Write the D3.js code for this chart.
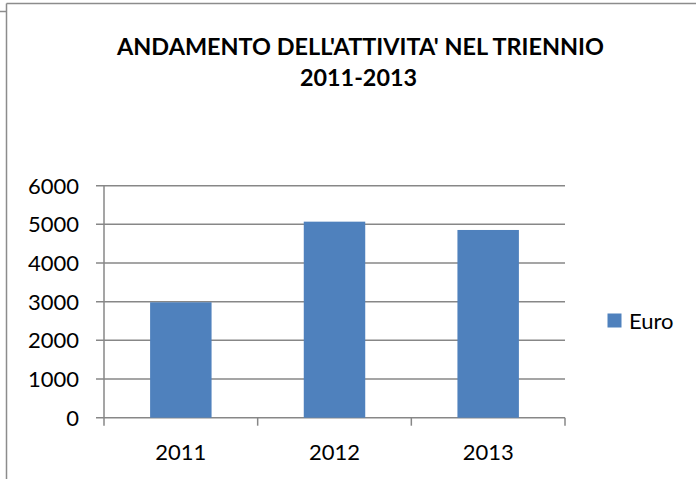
<!DOCTYPE html>
<html><head><meta charset="utf-8">
<script src="https://cdn.jsdelivr.net/npm/d3@7"></script>
<style>html,body{margin:0;padding:0;background:#fff;}svg{display:block;}</style>
</head><body>
<svg id="c" width="696" height="479"></svg>
<script>
const categories = ["2011", "2012", "2013"];
const values = [2985, 5070, 4855];
const seriesName = "Euro";
const yTicks = [0, 1000, 2000, 3000, 4000, 5000, 6000];
const titleLines = ["ANDAMENTO DELL'ATTIVITA' NEL TRIENNIO", "2011-2013"];

(function () {
const svg = d3.select("#c");
const font = "Lato, 'Open Sans', sans-serif";
const grey = "#878787";

// outer frame
svg.append("line").attr("x1", 6.5).attr("x2", 696).attr("y1", 3.5).attr("y2", 3.5).attr("stroke", "#8c8c8c").attr("stroke-width", 1.5);
svg.append("line").attr("x1", 6.5).attr("x2", 6.5).attr("y1", 3.5).attr("y2", 479).attr("stroke", "#8c8c8c").attr("stroke-width", 1.5);
svg.append("line").attr("x1", 0).attr("x2", 6.5).attr("y1", 11.5).attr("y2", 11.5).attr("stroke", "#8c8c8c").attr("stroke-width", 1.5);

const pLeft = 104, pRight = 565, pTop = 185.7, pBottom = 417.7;
const x = d3.scaleBand().domain(categories).range([pLeft, pRight]).paddingInner(0.6).paddingOuter(0.3);
const xOuter = d3.scaleBand().domain(categories).range([pLeft, pRight]);
const y = d3.scaleLinear().domain([0, 6000]).range([pBottom, pTop]);

// gridlines
svg.append("g").selectAll("line").data(yTicks).join("line")
  .attr("x1", pLeft - 8).attr("x2", pRight)
  .attr("y1", d => y(d)).attr("y2", d => y(d))
  .attr("stroke", grey).attr("stroke-width", 1.5);

// y axis line
svg.append("line").attr("x1", pLeft).attr("x2", pLeft).attr("y1", pTop).attr("y2", pBottom + 8)
  .attr("stroke", grey).attr("stroke-width", 1.5);
// x category ticks
svg.append("g").selectAll("line").data(categories).join("line")
  .attr("x1", d => xOuter(d) + xOuter.bandwidth()).attr("x2", d => xOuter(d) + xOuter.bandwidth())
  .attr("y1", pBottom).attr("y2", pBottom + 8)
  .attr("stroke", grey).attr("stroke-width", 1.5);

// bars
svg.append("g").selectAll("rect").data(values).join("rect")
  .attr("x", (d, i) => x(categories[i]))
  .attr("width", x.bandwidth())
  .attr("y", d => y(d))
  .attr("height", d => pBottom - y(d))
  .attr("fill", "#4F81BD");

// y labels
svg.append("g").selectAll("text").data(yTicks).join("text")
  .attr("x", 79).attr("y", d => y(d) + 8)
  .attr("text-anchor", "end").attr("font-family", font).attr("font-size", 22).attr("fill", "#000")
  .text(d => d);

// x labels
svg.append("g").selectAll("text").data(categories).join("text")
  .attr("x", d => xOuter(d) + xOuter.bandwidth() / 2).attr("y", 460)
  .attr("text-anchor", "middle").attr("font-family", font).attr("font-size", 22).attr("fill", "#000")
  .text(d => d);

// title
svg.append("text").attr("x", 360.5).attr("y", 55).attr("text-anchor", "middle")
  .attr("font-family", font).attr("font-weight", "bold").attr("font-size", 23)
  .attr("textLength", 487).attr("lengthAdjust", "spacingAndGlyphs").text(titleLines[0]);
svg.append("text").attr("x", 358.5).attr("y", 86).attr("text-anchor", "middle")
  .attr("font-family", font).attr("font-weight", "bold").attr("font-size", 23)
  .attr("textLength", 117).attr("lengthAdjust", "spacingAndGlyphs").text(titleLines[1]);

// legend
svg.append("rect").attr("x", 607.5).attr("y", 313.5).attr("width", 14).attr("height", 14).attr("fill", "#4F81BD");
svg.append("text").attr("x", 629).attr("y", 328.5).attr("font-family", font).attr("font-size", 22).attr("fill", "#000").text(seriesName);
})();
</script>
</body></html>
